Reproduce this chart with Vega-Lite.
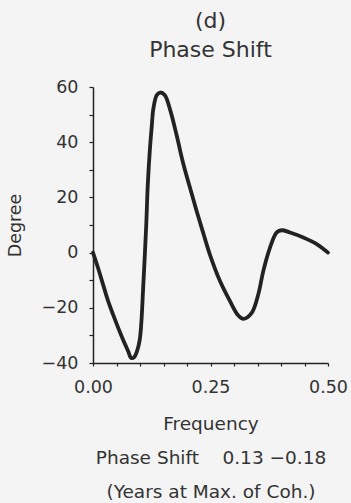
{
  "$schema": "https://vega.github.io/schema/vega-lite/v6.json",
  "autosize": {"type": "none"},
  "width": 235,
  "height": 276,
  "padding": {"left": 93, "top": 87, "right": 23, "bottom": 140},
  "background": "#f4f4f4",
  "config": {
    "view": {"stroke": null},
    "font": "DejaVu Sans",
    "axis": {"grid": false, "domainColor": "#222", "domainWidth": 1.5, "tickColor": "#222", "tickWidth": 1.2, "labelColor": "#333", "titleColor": "#333", "labelFont": "DejaVu Sans", "titleFont": "DejaVu Sans", "titleFontWeight": "normal"}
  },
  "title": {
    "text": ["(d)", "Phase Shift"],
    "fontSize": 22,
    "fontWeight": "normal",
    "lineHeight": 29,
    "color": "#333",
    "anchor": "middle",
    "offset": 16
  },
  "data": {
    "values": [
      {"f": 0.0, "v": 0},
      {"f": 0.0106, "v": -5.5},
      {"f": 0.0213, "v": -11.5},
      {"f": 0.0319, "v": -17.4},
      {"f": 0.0426, "v": -22.4},
      {"f": 0.0532, "v": -27.1},
      {"f": 0.0638, "v": -31.5},
      {"f": 0.0745, "v": -35.6},
      {"f": 0.0815, "v": -38.2},
      {"f": 0.0875, "v": -37.9},
      {"f": 0.0935, "v": -35.8},
      {"f": 0.0994, "v": -31.6},
      {"f": 0.1028, "v": -25.5},
      {"f": 0.1064, "v": -13.9},
      {"f": 0.11, "v": -1.8},
      {"f": 0.1135, "v": 11},
      {"f": 0.1164, "v": 24},
      {"f": 0.1213, "v": 38},
      {"f": 0.1249, "v": 45.5},
      {"f": 0.1283, "v": 52},
      {"f": 0.1355, "v": 57},
      {"f": 0.1426, "v": 58},
      {"f": 0.1525, "v": 57.1},
      {"f": 0.164, "v": 51.8},
      {"f": 0.1781, "v": 42.4},
      {"f": 0.1921, "v": 32.2},
      {"f": 0.2064, "v": 23.5},
      {"f": 0.2206, "v": 15},
      {"f": 0.2347, "v": 7},
      {"f": 0.2489, "v": -0.8},
      {"f": 0.2702, "v": -10.3},
      {"f": 0.2915, "v": -17.6},
      {"f": 0.3091, "v": -22.8},
      {"f": 0.3198, "v": -24},
      {"f": 0.3377, "v": -21.8},
      {"f": 0.3517, "v": -15.1},
      {"f": 0.3623, "v": -6.7},
      {"f": 0.3766, "v": 1.8},
      {"f": 0.3909, "v": 7.3},
      {"f": 0.4015, "v": 8.1},
      {"f": 0.4191, "v": 7.3},
      {"f": 0.4474, "v": 5.5},
      {"f": 0.476, "v": 3.1},
      {"f": 0.5, "v": 0}
    ]
  },
  "mark": {"type": "line", "interpolate": "catmull-rom", "stroke": "#222", "strokeWidth": 3.8, "strokeCap": "round", "strokeJoin": "round"},
  "encoding": {
    "x": {
      "field": "f",
      "type": "quantitative",
      "scale": {"domain": [0, 0.5], "nice": false, "zero": false},
      "axis": {
        "values": [0, 0.05, 0.1, 0.15, 0.2, 0.25, 0.3, 0.35, 0.4, 0.45, 0.5],
        "labelExpr": "(abs(datum.value) < 0.001 || abs(datum.value - 0.25) < 0.001 || abs(datum.value - 0.5) < 0.001) ? format(datum.value, '.2f') : ''",
        "tickSize": 3,
        "tickWidth": 1.2,
        "labelPadding": 12,
        "labelFontSize": 17.5,
        "labelFlush": false,
        "labelOverlap": false,
        "title": ["Frequency", "Phase Shift\u00a0\u00a0\u00a0\u00a00.13 −0.18", "(Years at Max. of Coh.)"],
        "titleFontSize": 18.5,
        "titleLineHeight": 34,
        "titlePadding": 19
      }
    },
    "y": {
      "field": "v",
      "type": "quantitative",
      "scale": {"domain": [-40, 60], "nice": false, "zero": false},
      "axis": {
        "values": [-40, -30, -20, -10, 0, 10, 20, 30, 40, 50, 60],
        "labelExpr": "datum.value % 20 == 0 ? format(datum.value, 'd') : ''",
        "tickSize": 4,
        "labelPadding": 11,
        "labelFontSize": 17.5,
        "labelFlush": false,
        "labelOverlap": false,
        "title": "Degree",
        "titleFontSize": 17.5,
        "titlePadding": 17
      }
    }
  }
}
